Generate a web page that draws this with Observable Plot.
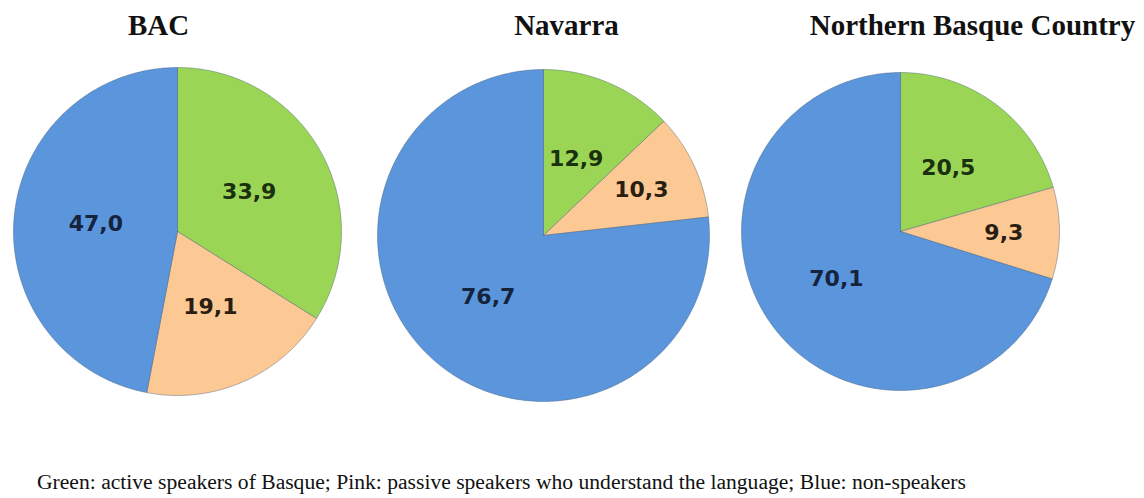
<!DOCTYPE html>
<html>
<head>
<meta charset="utf-8">
<script src="https://cdn.jsdelivr.net/npm/d3@7"></script>
<script src="https://cdn.jsdelivr.net/npm/@observablehq/plot@0.6"></script>
<style>
  html, body { margin: 0; padding: 0; background: #fff; }
  #chart svg { display: block; }
  #caption { font-family: "Liberation Serif", serif; font-size: 21.6px; line-height: 24px; color: #111; padding-left: 37px; white-space: nowrap; }
</style>
</head>
<body>
<div id="chart"></div>
<div id="caption">Green: active speakers of Basque; Pink: passive speakers who understand the language; Blue: non-speakers</div>
<script>
// ---- data ----
const regions = ["BAC", "Navarra", "Northern Basque Country"];
const categories = ["Active speakers", "Passive speakers", "Non-speakers"];
const activeSpeakers = [33.9, 12.9, 20.5];
const passiveSpeakers = [19.1, 10.3, 9.3];
const nonSpeakers = [47.0, 76.7, 70.1];

// ---- layout & style (not data) ----
const W = 1144, H = 470;
const centerX = [177, 543, 900];
const centerY = [231, 235, 231];
const radius = [164, 166, 159];
const titleX = [158, 566, 972];
const titleY = 34;
const sliceColors = ["#9bd555", "#fcc894", "#5b96dd"];
const labelColors = ["#1b300e", "#2a1e12", "#15233c"];

// ---- geometry from data ----
const series = [activeSpeakers, passiveSpeakers, nonSpeakers];
const slicePts = [];
const labels = [];
regions.forEach((region, r) => {
  const values = categories.map((c, k) => series[k][r]);
  const arcs = d3.pie().sort(null).value(d => d)(values);
  arcs.forEach((a, k) => {
    const id = region + "|" + categories[k];
    const cx = centerX[r], cy = centerY[r], R = radius[r];
    const pt = (ang, rr) => ({x: cx + rr * Math.sin(ang), y: cy - rr * Math.cos(ang)});
    const push = (p) => slicePts.push({...p, id, category: categories[k]});
    push(pt(0, 0));
    const n = Math.max(2, Math.ceil((a.endAngle - a.startAngle) / (Math.PI / 360)));
    for (let i = 0; i <= n; i++) push(pt(a.startAngle + (a.endAngle - a.startAngle) * i / n, R));
    push(pt(0, 0));
    const mid = (a.startAngle + a.endAngle) / 2;
    const frac = values[k] < 12 ? 0.65 : 0.5;
    const lp = pt(mid, R * frac);
    labels.push({...lp, category: categories[k], text: values[k].toFixed(1).replace(".", ",")});
  });
});
const titles = regions.map((name, r) => ({name, x: titleX[r], y: titleY}));

const chart = Plot.plot({
  width: W,
  height: H,
  margin: 0,
  x: {domain: [0, W], range: [0, W], axis: null},
  y: {domain: [0, H], range: [0, H], axis: null},
  color: {domain: categories, range: sliceColors},
  style: {background: "#fff"},
  marks: [
    Plot.line(slicePts, {x: "x", y: "y", z: "id", fill: "category", stroke: "#3d5570", strokeOpacity: 0.4, strokeWidth: 1, curve: "linear"}),
    Plot.text(labels, {x: "x", y: "y", text: "text", fill: d => labelColors[categories.indexOf(d.category)],
      fontFamily: "DejaVu Sans", fontWeight: "bold", fontSize: 22, textAnchor: "middle", lineAnchor: "middle"}),
    Plot.text(titles, {x: "x", y: "y", text: "name", fill: "#111", fontFamily: "Liberation Serif",
      fontWeight: "bold", fontSize: 29, textAnchor: "middle", lineAnchor: "bottom"})
  ]
});
document.getElementById("chart").append(chart);
</script>
</body>
</html>
